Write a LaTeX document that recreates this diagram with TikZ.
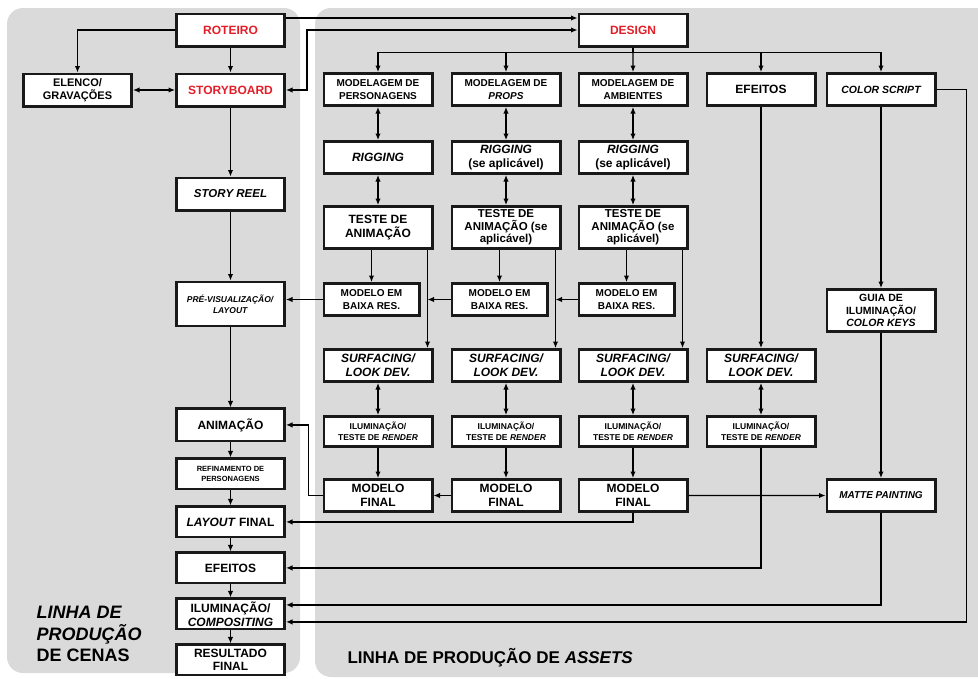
\documentclass[tikz,border=0pt]{standalone}
\usepackage{fontspec}
\setmainfont{Liberation Sans}
\usetikzlibrary{arrows.meta, positioning}
\definecolor{panelgray}{RGB}{218,218,218}
\definecolor{titlered}{RGB}{228,30,40}

\begin{document}
\begin{tikzpicture}[
            x=1pt, y=-1pt,
            node distance=17pt and 17pt,
            box/.style={rectangle, draw=black!90, line width=2.7pt, fill=white, minimum width=108.3pt, minimum height=32.3pt, inner sep=1pt, align=center, font=\bfseries\fontsize{12}{13.8}\selectfont},
            small/.style={font=\bfseries\fontsize{10}{12.5}\selectfont},
            tiny/.style={font=\bfseries\fontsize{8.5}{11}\selectfont},
            tight/.style={font=\bfseries\fontsize{11.5}{12.6}\selectfont},
            arrow/.style={-{Latex[length=6.5pt, width=5.5pt]}, line width=1.2pt},
            darrow/.style={{Latex[length=6.5pt, width=5.5pt]}-{Latex[length=6.5pt, width=5.5pt]}, line width=1.2pt}
        ]
            \useasboundingbox (0,0) rectangle (978,678);
            \clip (0,0) rectangle (978,678);
            \fill[panelgray, rounded corners=16pt] (7,8) rectangle (300,673);
            \fill[panelgray, rounded corners=16pt] (315,8) rectangle (1000,677);

            \node[box, text=titlered] (roteiro) at (230.5,30) {ROTEIRO};
            \node[box, text=titlered, below=25pt of roteiro] (storyboard) {STORYBOARD};
            \node[box, font=\bfseries\fontsize{11}{13}\selectfont, left=42pt of storyboard] (elenco) {ELENCO/\\GRAVAÇÕES};
            \node[box, font=\bfseries\itshape\fontsize{11.5}{13}\selectfont, below=69pt of storyboard] (storyreel) {STORY REEL};
            \node[box, tiny, minimum height=44.2pt, below=69pt of storyreel] (previs) {\textit{PRÉ-VISUALIZAÇÃO/}\\\textit{LAYOUT}};
            \node[box, below=80pt of previs] (animacao) {ANIMAÇÃO};
            \node[box, font=\bfseries\fontsize{7.5}{10.5}\selectfont, minimum height=30.3pt, below=15pt of animacao] (refinamento) {REFINAMENTO DE\\PERSONAGENS};
            \node[box, minimum height=30.3pt, below=15pt of refinamento] (layoutfinal) {\textit{LAYOUT} FINAL};
            \node[box, minimum height=30.3pt, below=13pt of layoutfinal] (efeitos_cena) {EFEITOS};
            \node[box, minimum height=30.3pt, below=13pt of efeitos_cena] (ilumcomp) {ILUMINAÇÃO/\\\textit{COMPOSITING}};
            \node[box, minimum height=30.3pt, below=13pt of ilumcomp] (resultado) {RESULTADO\\FINAL};
            \node[anchor=west, align=left, font=\bfseries\fontsize{18}{21.5}\selectfont] (cenas_title) at (33,634) {\textit{LINHA DE}\\\textit{PRODUÇÃO}\\DE CENAS};

            \node[box, text=titlered] (design) at (633,30) {DESIGN};
            \node[box, small] (mod_pers) at (378,89.5) {MODELAGEM DE\\PERSONAGENS};
            \node[box, small, right=17pt of mod_pers] (mod_props) {MODELAGEM DE\\\textit{PROPS}};
            \node[box, small, right=16pt of mod_props] (mod_amb) {MODELAGEM DE\\AMBIENTES};
            \node[box, right=17pt of mod_amb] (efeitos) {EFEITOS};
            \node[box, font=\bfseries\itshape\fontsize{10.5}{12.5}\selectfont, right=9pt of efeitos] (colorscript) {COLOR SCRIPT};

            \node[box, below=33pt of mod_pers] (rig_pers) {\textit{RIGGING}};
            \node[box, below=33pt of mod_props] (rig_props) {\textit{RIGGING}\\(se aplicável)};
            \node[box, below=33pt of mod_amb] (rig_amb) {\textit{RIGGING}\\(se aplicável)};

            \node[box, minimum height=42.3pt, below=30pt of rig_pers] (teste_pers) {TESTE DE\\ANIMAÇÃO};
            \node[box, tight, minimum height=42.3pt, below=30pt of rig_props] (teste_props) {TESTE DE\\ANIMAÇÃO (se\\aplicável)};
            \node[box, tight, minimum height=42.3pt, below=30pt of rig_amb] (teste_amb) {TESTE DE\\ANIMAÇÃO (se\\aplicável)};

            \node[box, small, minimum width=95.3pt, below=32pt of teste_pers.south west, anchor=north west] (baixa_pers) {MODELO EM\\BAIXA RES.};
            \node[box, small, minimum width=95.3pt, below=32pt of teste_props.south west, anchor=north west] (baixa_props) {MODELO EM\\BAIXA RES.};
            \node[box, small, minimum width=95.3pt, below=32pt of teste_amb.south west, anchor=north west] (baixa_amb) {MODELO EM\\BAIXA RES.};

            \node[box, font=\bfseries\itshape\fontsize{12}{13.8}\selectfont, below=98pt of teste_pers] (surf_pers) {SURFACING/\\LOOK DEV.};
            \node[box, font=\bfseries\itshape\fontsize{12}{13.8}\selectfont, below=98pt of teste_props] (surf_props) {SURFACING/\\LOOK DEV.};
            \node[box, font=\bfseries\itshape\fontsize{12}{13.8}\selectfont, below=98pt of teste_amb] (surf_amb) {SURFACING/\\LOOK DEV.};
            \node[box, font=\bfseries\itshape\fontsize{12}{13.8}\selectfont, right=17pt of surf_amb] (surf_fx) {SURFACING/\\LOOK DEV.};

            \node[box, tiny, minimum height=30.3pt, below=32pt of surf_pers] (ilum_pers) {ILUMINAÇÃO/\\TESTE DE \textit{RENDER}};
            \node[box, tiny, minimum height=30.3pt, below=32pt of surf_props] (ilum_props) {ILUMINAÇÃO/\\TESTE DE \textit{RENDER}};
            \node[box, tiny, minimum height=30.3pt, below=32pt of surf_amb] (ilum_amb) {ILUMINAÇÃO/\\TESTE DE \textit{RENDER}};
            \node[box, tiny, minimum height=30.3pt, below=32pt of surf_fx] (ilum_fx) {ILUMINAÇÃO/\\TESTE DE \textit{RENDER}};

            \node[box, below=30pt of ilum_pers] (final_pers) {MODELO\\FINAL};
            \node[box, below=30pt of ilum_props] (final_props) {MODELO\\FINAL};
            \node[box, below=30pt of ilum_amb] (final_amb) {MODELO\\FINAL};

            \node[box, font=\bfseries\fontsize{10.5}{12.5}\selectfont, minimum height=42.3pt, below=181pt of colorscript] (guia) {GUIA DE\\ILUMINAÇÃO/\\\textit{COLOR KEYS}};
            \node[box, font=\bfseries\itshape\fontsize{10}{12}\selectfont, below=145pt of guia] (matte) {MATTE PAINTING};
            \node[anchor=base west, font=\bfseries\fontsize{17}{20}\selectfont] (assets_title) at (344,663) {LINHA DE PRODUÇÃO DE \textit{ASSETS}};

            \coordinate (v_pers) at ([xshift=-6pt]teste_pers.south east);
            \coordinate (v_props) at ([xshift=-6pt]teste_props.south east);
            \coordinate (v_amb) at ([xshift=-6pt]teste_amb.south east);

            \draw[arrow] (roteiro.west) -| (elenco.north);
            \draw[arrow] (roteiro) -- (storyboard);
            \draw[darrow] (elenco) -- (storyboard);
            \draw[arrow] ([yshift=12pt]roteiro.east) -- ([yshift=12pt]design.west);
            \draw[darrow] (storyboard.east) -- ++(21,0) |- (design.west);
            \draw[arrow] (storyboard) -- (storyreel);
            \draw[arrow] (storyreel) -- (previs);
            \draw[arrow] (previs) -- (animacao);
            \draw[arrow] (animacao) -- (refinamento);
            \draw[arrow] (refinamento) -- (layoutfinal);
            \draw[arrow] (layoutfinal) -- (efeitos_cena);
            \draw[arrow] (efeitos_cena) -- (ilumcomp);
            \draw[arrow] (ilumcomp) -- (resultado);

            \draw[arrow] (design.south) -- ++(0,5) -| (mod_pers.north);
            \draw[arrow] (design.south) -- ++(0,5) -| (mod_props.north);
            \draw[arrow] (design) -- (mod_amb);
            \draw[arrow] (design.south) -- ++(0,5) -| (efeitos.north);
            \draw[arrow] (design.south) -- ++(0,5) -| (colorscript.north);

            \draw[darrow] (mod_pers) -- (rig_pers);
            \draw[darrow] (mod_props) -- (rig_props);
            \draw[darrow] (mod_amb) -- (rig_amb);
            \draw[darrow] (rig_pers) -- (teste_pers);
            \draw[darrow] (rig_props) -- (teste_props);
            \draw[darrow] (rig_amb) -- (teste_amb);
            \draw[arrow] (teste_pers.south -| baixa_pers) -- (baixa_pers);
            \draw[arrow] (teste_props.south -| baixa_props) -- (baixa_props);
            \draw[arrow] (teste_amb.south -| baixa_amb) -- (baixa_amb);
            \draw[arrow] (v_pers) -- (v_pers |- surf_pers.north);
            \draw[arrow] (v_props) -- (v_props |- surf_props.north);
            \draw[arrow] (v_amb) -- (v_amb |- surf_amb.north);
            \draw[arrow] (baixa_amb.west) -- (baixa_amb.west -| v_props);
            \draw[arrow] (baixa_props.west) -- (baixa_props.west -| v_pers);
            \draw[arrow] (baixa_pers.west) -- (baixa_pers.west -| previs.east);

            \draw[darrow] (surf_pers) -- (ilum_pers);
            \draw[darrow] (surf_props) -- (ilum_props);
            \draw[darrow] (surf_amb) -- (ilum_amb);
            \draw[darrow] (surf_fx) -- (ilum_fx);
            \draw[arrow] (ilum_pers) -- (final_pers);
            \draw[arrow] (ilum_props) -- (final_props);
            \draw[arrow] (ilum_amb) -- (final_amb);
            \draw[arrow] (efeitos) -- (surf_fx);

            \draw[arrow] (final_props) -- (final_pers);
            \draw[arrow] (final_pers.west) -- ++(-14,0) |- (animacao.east);
            \draw[arrow] (final_amb) -- (matte);
            \draw[arrow] (final_amb.south) |- (layoutfinal.east);
            \draw[arrow] (ilum_fx.south) |- (efeitos_cena.east);

            \draw[arrow] (colorscript) -- (guia);
            \draw[arrow] (guia) -- (matte);
            \draw[arrow] (matte.south) |- ([yshift=9pt]ilumcomp.east);
            \draw[arrow] (colorscript.east) -- ++(30,0) |- ([yshift=-8pt]ilumcomp.east);
        \end{tikzpicture}
\end{document}
